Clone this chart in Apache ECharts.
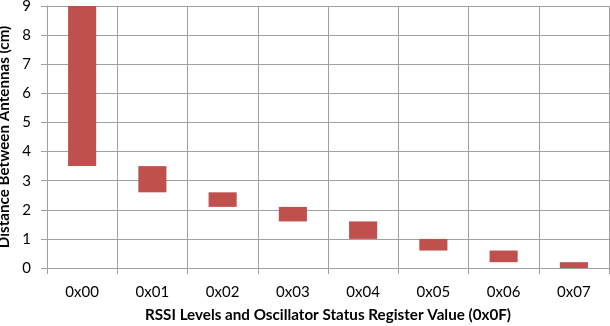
<!DOCTYPE html>
<html>
<head>
<meta charset="utf-8">
<script src="https://cdn.jsdelivr.net/npm/echarts@6/dist/echarts.min.js"></script>
<style>html,body{margin:0;padding:0;background:#fff;}#c{width:610px;height:326px;}</style>
</head>
<body>
<div id="c"></div>
<script>
var categories = ['0x00','0x01','0x02','0x03','0x04','0x05','0x06','0x07'];
var lows  = [3.5, 2.6, 2.1, 1.6, 1.0, 0.6, 0.2, 0.0];
var highs = [9.0, 3.5, 2.6, 2.1, 1.6, 1.0, 0.6, 0.2];
var yTicks = [0,1,2,3,4,5,6,7,8,9];

var spans = highs.map(function(h,i){ return +(h - lows[i]).toFixed(3); });
var gridColor = '#a0a0a0';
var font = 'Lato, "Open Sans", sans-serif';

var chart = echarts.init(document.getElementById('c'), null, {renderer:'canvas'});
chart.setOption({
  animation: false,
  grid: {left: 47, right: 1, top: 6, bottom: 58, containLabel: false, outerBoundsMode: 'none'},
  xAxis: {
    type: 'category',
    data: categories,
    boundaryGap: true,
    name: 'RSSI Levels and Oscillator Status Register Value (0x0F)',
    nameLocation: 'middle',
    nameGap: 40,
    nameTextStyle: {fontFamily: font, fontWeight: 'bold', fontSize: 15.2, color: '#000'},
    axisLine: {show: true, lineStyle: {color: gridColor, width: 1}},
    axisTick: {show: true, length: 6, lineStyle: {color: gridColor}},
    axisLabel: {fontFamily: font, fontSize: 15, color: '#000', margin: 17},
    splitLine: {show: true, lineStyle: {color: gridColor, width: 1}}
  },
  yAxis: {
    type: 'value',
    min: yTicks[0],
    max: yTicks[yTicks.length-1],
    interval: 1,
    name: 'Distance Between Antennas (cm)',
    nameLocation: 'middle',
    nameGap: 31,
    nameTextStyle: {fontFamily: font, fontWeight: 'bold', fontSize: 15.2, color: '#000'},
    axisLine: {show: true, lineStyle: {color: gridColor, width: 1}},
    axisTick: {show: true, length: 6, lineStyle: {color: gridColor}},
    axisLabel: {fontFamily: font, fontSize: 15, color: '#000', margin: 16},
    splitLine: {show: true, lineStyle: {color: gridColor, width: 1}}
  },
  series: [
    {type: 'bar', stack: 'r', data: lows, barWidth: '40%', itemStyle: {color: 'transparent'}, silent: true},
    {type: 'bar', stack: 'r', data: spans, barWidth: '40%', itemStyle: {color: '#c0504d'}}
  ]
});
</script>
</body>
</html>
